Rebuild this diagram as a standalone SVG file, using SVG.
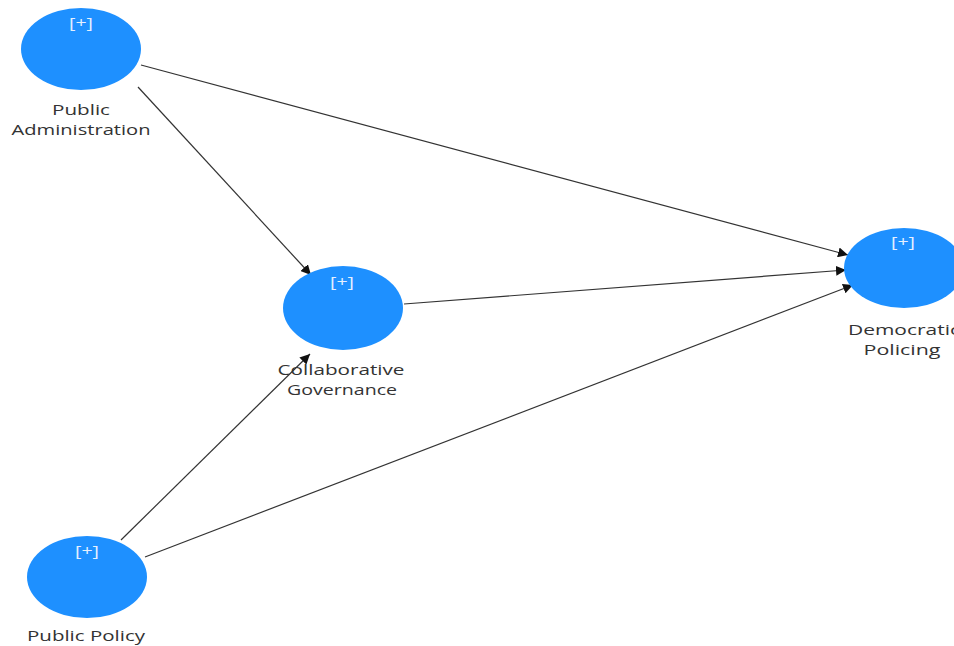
<svg xmlns="http://www.w3.org/2000/svg" width="954" height="646" viewBox="0 0 954 646">
<style>
.node{fill:#1e90ff}
.plus{font-family:"Open Sans","Liberation Sans",sans-serif;font-size:14px;fill:#e6f0ff;text-anchor:middle}
.lbl{font-family:"Open Sans","Liberation Sans",sans-serif;font-size:15px;fill:#333;text-anchor:middle}
.edge{stroke:#333;stroke-width:1.2;fill:none;marker-end:url(#ah)}
</style>
<defs>
<marker id="ah" viewBox="0 0 10 10" refX="10" refY="5" markerWidth="10" markerHeight="10" markerUnits="userSpaceOnUse" orient="auto">
<path d="M0,0 L10,5 L0,10 z" fill="#111"/>
</marker>
</defs>
<rect width="954" height="646" fill="#fff"/>
<g id="connectors">
<line class="edge" x1="138" y1="87" x2="311" y2="275"/>
<line class="edge" x1="141" y1="65" x2="848" y2="255"/>
<line class="edge" x1="404" y1="304" x2="846" y2="270"/>
<line class="edge" x1="121" y1="540" x2="310" y2="354"/>
<line class="edge" x1="145" y1="557" x2="853" y2="285"/>
</g>
<g id="public-administration">
<ellipse class="node" cx="81" cy="49" rx="60" ry="41"/>
<text class="plus" x="81" y="28" textLength="24" lengthAdjust="spacingAndGlyphs">[+]</text>
<text class="lbl" x="81" y="115" textLength="58" lengthAdjust="spacingAndGlyphs">Public</text>
<text class="lbl" x="81" y="135" textLength="139" lengthAdjust="spacingAndGlyphs">Administration</text>
</g>
<g id="collaborative-governance">
<ellipse class="node" cx="343" cy="308" rx="60" ry="42"/>
<text class="plus" x="342" y="287" textLength="24" lengthAdjust="spacingAndGlyphs">[+]</text>
<text class="lbl" x="341" y="375" textLength="127" lengthAdjust="spacingAndGlyphs">Collaborative</text>
<text class="lbl" x="342" y="395" textLength="110" lengthAdjust="spacingAndGlyphs">Governance</text>
</g>
<g id="democratic-policing">
<ellipse class="node" cx="904" cy="268" rx="60" ry="40"/>
<text class="plus" x="903" y="247" textLength="24" lengthAdjust="spacingAndGlyphs">[+]</text>
<text class="lbl" x="904" y="335" textLength="112" lengthAdjust="spacingAndGlyphs">Democratic</text>
<text class="lbl" x="902" y="355" textLength="77" lengthAdjust="spacingAndGlyphs">Policing</text>
</g>
<g id="public-policy">
<ellipse class="node" cx="87" cy="577" rx="60" ry="41"/>
<text class="plus" x="87" y="556" textLength="24" lengthAdjust="spacingAndGlyphs">[+]</text>
<text class="lbl" x="86" y="641" textLength="118" lengthAdjust="spacingAndGlyphs">Public Policy</text>
</g>
</svg>
